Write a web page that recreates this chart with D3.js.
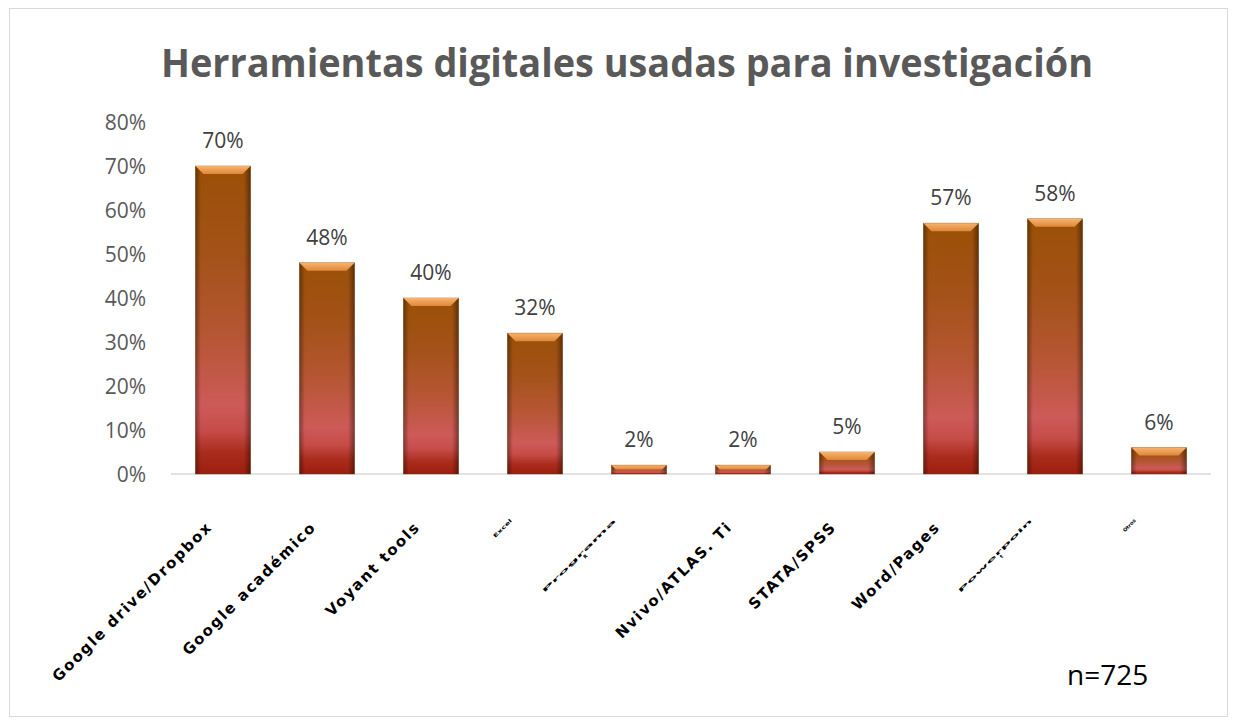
<!DOCTYPE html>
<html>
<head>
<meta charset="utf-8">
<script src="https://cdn.jsdelivr.net/npm/d3@7"></script>
<style>
    body { margin: 0; background: #fff; }
</style>
</head>
<body>
<script>
// datos
var categories = ["Google drive/Dropbox", "Google académico", "Voyant tools", "Excel",
    "Programa R", "Nvivo/ATLAS. Ti", "STATA/SPSS", "Word/Pages", "Powerpoint", "Otros"];
var values = [0.70, 0.48, 0.40, 0.32, 0.02, 0.02, 0.05, 0.57, 0.58, 0.06];
var yTicks = [0, 0.1, 0.2, 0.3, 0.4, 0.5, 0.6, 0.7, 0.8];
// labels squeezed into a tiny box (index -> lines)
var tinyLabels = {3: ["Excel"], 4: ["Programa", "R"], 8: ["Powerpoin", "t"], 9: ["Otros"]};

var svg_width = 1235;
var svg_height = 724;

var svg = d3.select("body")
    .append("svg")
    .attr("width", svg_width)
    .attr("height", svg_height);

// outer frame
svg.append("rect")
    .attr("x", 9.5).attr("y", 8.5)
    .attr("width", 1218).attr("height", 708)
    .attr("fill", "#fff")
    .attr("stroke", "#d9d9d9");

// title
svg.append("text")
    .attr("x", 627).attr("y", 77)
    .attr("text-anchor", "middle")
    .attr("textLength", 932)
    .attr("lengthAdjust", "spacingAndGlyphs")
    .style("font-family", "'Open Sans', sans-serif")
    .style("font-weight", "bold")
    .style("font-size", "40px")
    .style("fill", "#595959")
    .text("Herramientas digitales usadas para investigación");

var x = d3.scaleBand()
    .domain(categories)
    .range([171, 1211])
    .paddingInner(0.47)
    .paddingOuter(0.235);

var y = d3.scaleLinear()
    .domain([0, 0.8])
    .range([474, 122]);

// gradients
var defs = svg.append("defs");
var g1 = defs.append("linearGradient").attr("id", "barFill")
    .attr("x1", 0).attr("y1", 0).attr("x2", 0).attr("y2", 1);
[[0, "#9a5006"], [0.3, "#a5521a"], [0.55, "#b65634"], [0.78, "#cd5a58"],
    [0.86, "#c64c48"], [0.93, "#aa2c1c"], [1, "#9c1e0e"]].forEach(function (s) {
    g1.append("stop").attr("offset", s[0]).attr("stop-color", s[1]);
});
var g2 = defs.append("linearGradient").attr("id", "sideShade")
    .attr("x1", 0).attr("y1", 0).attr("x2", 1).attr("y2", 0);
[[0, "#000", 0.35], [0.1, "#000", 0], [0.88, "#000", 0], [1, "#000", 0.4]].forEach(function (s) {
    g2.append("stop").attr("offset", s[0]).attr("stop-color", s[1]).attr("stop-opacity", s[2]);
});
var g3 = defs.append("linearGradient").attr("id", "bevelTop")
    .attr("x1", 0).attr("y1", 0).attr("x2", 0).attr("y2", 1);
g3.append("stop").attr("offset", 0).attr("stop-color", "#f6b46e");
g3.append("stop").attr("offset", 1).attr("stop-color", "#e0873a");

// axis line
svg.append("line")
    .attr("x1", 171).attr("x2", 1211)
    .attr("y1", y(0)).attr("y2", y(0))
    .attr("stroke", "#d9d9d9")
    .attr("stroke-width", 1.5);

// y axis labels
svg.selectAll(".ytick")
    .data(yTicks)
    .enter()
    .append("text")
    .attr("class", "ytick")
    .attr("x", 146)
    .attr("y", function (d) { return y(d) + 8; })
    .attr("text-anchor", "end")
    .style("font-family", "'Open Sans', sans-serif")
    .style("font-size", "21px")
    .style("fill", "#595959")
    .text(d3.format(".0%"));

// bars
var bars = svg.selectAll(".bar")
    .data(values)
    .enter()
    .append("g")
    .attr("class", "bar");

bars.append("rect")
    .attr("x", function (d, i) { return x(categories[i]); })
    .attr("y", function (d) { return y(d); })
    .attr("width", x.bandwidth())
    .attr("height", function (d) { return y(0) - y(d); })
    .attr("fill", "url(#barFill)")
    .attr("stroke", "#7a3a10")
    .attr("stroke-opacity", 0.5)
    .attr("stroke-width", 0.8);

bars.append("rect")
    .attr("x", function (d, i) { return x(categories[i]); })
    .attr("y", function (d) { return y(d); })
    .attr("width", x.bandwidth())
    .attr("height", function (d) { return y(0) - y(d); })
    .attr("fill", "url(#sideShade)");

bars.append("polygon")
    .attr("points", function (d, i) {
        var x0 = x(categories[i]), w = x.bandwidth(), t = y(d);
        var b = Math.min(8, (y(0) - t) / 2);
        return [[x0, t], [x0 + w, t], [x0 + w - b, t + b], [x0 + b, t + b]].join(" ");
    })
    .attr("fill", "url(#bevelTop)");

// data labels
svg.selectAll(".dlabel")
    .data(values)
    .enter()
    .append("text")
    .attr("class", "dlabel")
    .attr("x", function (d, i) { return x(categories[i]) + x.bandwidth() / 2; })
    .attr("y", function (d) { return y(d) - 18; })
    .attr("text-anchor", "middle")
    .style("font-family", "'Open Sans', sans-serif")
    .style("font-size", "21px")
    .style("fill", "#404040")
    .text(d3.format(".0%"));

// x labels
categories.forEach(function (c, i) {
    var cx = x(c) + x.bandwidth() / 2 - 10;
    var cy = 528;
    var g = svg.append("g")
        .attr("transform", "translate(" + cx + "," + cy + ") rotate(-45)");
    if (tinyLabels[i]) {
        var lines = tinyLabels[i];
        var len = lines[0].length > 6 ? 102 : (i === 3 ? 24 : 16);
        lines.forEach(function (l, j) {
            g.append("text")
                .attr("x", j === 0 ? -4 : -len / 2)
                .attr("y", j * 5 - 14)
                .attr("text-anchor", j === 0 ? "end" : "middle")
                .attr("textLength", j === 0 ? len : null)
                .attr("lengthAdjust", "spacingAndGlyphs")
                .style("font-family", "'DejaVu Sans', sans-serif")
                .style("font-weight", "bold")
                .style("font-size", "5px")
                .style("fill", "#000")
                .text(l);
        });
    } else {
        g.append("text")
            .attr("x", 0).attr("y", 0)
            .attr("text-anchor", "end")
            .style("font-family", "'DejaVu Sans', sans-serif")
            .style("font-weight", "bold")
            .style("font-size", "15px")
            .style("letter-spacing", "1.7px")
            .style("fill", "#000")
            .text(c);
    }
});

// sample size
svg.append("text")
    .attr("x", 1067).attr("y", 685)
    .style("font-family", "'Open Sans', sans-serif")
    .style("font-size", "28px")
    .style("fill", "#000")
    .text("n=725");
</script>
</body>
</html>
